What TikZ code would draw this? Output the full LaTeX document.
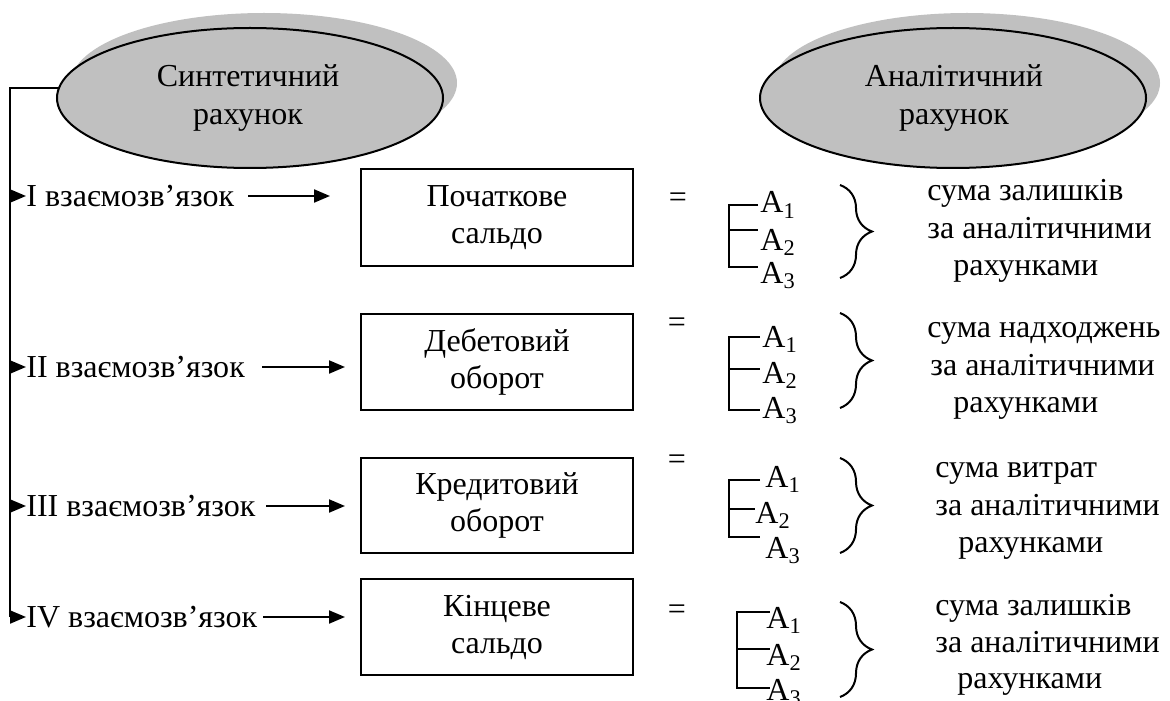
\documentclass[tikz,border=0pt]{standalone}
\usepackage{fontspec}
\setmainfont{Liberation Serif}
\usetikzlibrary{shapes.geometric,arrows.meta,decorations.pathreplacing}
\definecolor{ellgray}{HTML}{C0C0C0}
\begin{document}
\begin{tikzpicture}[x=0.5pt,y=-0.5pt,
  txt/.style={font=\fontsize{16pt}{18.5pt}\selectfont, inner sep=0pt},
  etxt/.style={font=\fontsize{16pt}{19pt}\selectfont, inner sep=0pt},
  ell/.style={ellipse, minimum width=193pt, minimum height=70pt, inner sep=0pt},
  shadowell/.style={ell, fill=ellgray},
  frontell/.style={ell, fill=ellgray, draw=black, line width=1pt},
  box/.style={txt, draw, line width=1pt, minimum width=136pt, minimum height=48pt, align=center},
  arr/.style={line width=1pt, -{Triangle[length=8pt,width=6.5pt]}},
  tickline/.style={line width=1pt},
  brc/.style={line width=1pt, decorate, decoration={brace, amplitude=16pt}},
  lab/.style={txt, anchor=west},
  bw/.style={txt, anchor=base west},
]
\useasboundingbox (0,0) rectangle (1170,700);

% ellipses
\node[shadowell] (syntsh) at (264,83) {};
\node[frontell] (synt) at (250,98) {};
\node[etxt, align=center] (synttxt) at (248,98) {Синтетичний\\рахунок};
\node[shadowell] (analsh) at (967,83) {};
\node[frontell] (anal) at (953,98) {};
\node[etxt, align=center] (analtxt) at (954,98) {Аналітичний\\рахунок};

% row labels
\coordinate (t1) at (10,196);
\coordinate (t2) at (10,367);
\coordinate (t3) at (10,506);
\coordinate (t4) at (10,617);
\coordinate (t0) at (synt.177 -| t4);
\node[lab] (lab1) at (26,196) {I взаємозв’язок};
\node[lab] (lab2) at (26,367) {II взаємозв’язок};
\node[lab] (lab3) at (26,506) {III взаємозв’язок};
\node[lab] (lab4) at (26,617) {IV взаємозв’язок};
\draw[line width=1pt] (t4) -- (t0) -- (synt.177);
\foreach \i in {1,...,4} {\draw[arr] (t\i) -- (lab\i.west);}

% boxes
\node[box, minimum height=48.5pt] (b1) at (497,217.5) {Початкове\\сальдо};
\node[box] (b2) at (497,362) {Дебетовий\\оборот};
\node[box, minimum height=47.5pt] (b3) at (497,505.5) {Кредитовий\\оборот};
\node[box] (b4) at (497,627) {Кінцеве\\сальдо};

% arrows to boxes
\coordinate (s1) at (248,196); \coordinate (e1) at (330,196);
\coordinate (s2) at (262,367); \coordinate (e2) at (345,367);
\coordinate (s3) at (266,506); \coordinate (e3) at (345,506);
\coordinate (s4) at (263,617); \coordinate (e4) at (345,617);
\foreach \i in {1,...,4} {\draw[arr] (s\i) -- (e\i);}

% equals
\node[txt] (eq1) at (678,200) {=};
\node[txt] (eq2) at (677,325) {=};
\node[txt] (eq3) at (677,462) {=};
\node[txt] (eq4) at (677,612) {=};

% row I list
\draw[tickline] (758,205) -- (729,205) -- (729,267) -- (758,267);
\draw[tickline] (729,230) -- (758,230);
\node[bw] (a11) at (760,213) {A\textsubscript{1}};
\node[bw] (a12) at (760,250) {A\textsubscript{2}};
\node[bw] (a13) at (760,283) {A\textsubscript{3}};
% row II list
\draw[tickline] (760,337) -- (729,337) -- (729,410) -- (760,410);
\draw[tickline] (729,369) -- (760,369);
\node[bw] (a21) at (762,347) {A\textsubscript{1}};
\node[bw] (a22) at (762,383) {A\textsubscript{2}};
\node[bw] (a23) at (762,418) {A\textsubscript{3}};
% row III list
\draw[tickline] (760,480) -- (729,480) -- (729,537) -- (760,537);
\draw[tickline] (729,509) -- (755,509);
\node[bw] (a31) at (765,487) {A\textsubscript{1}};
\node[bw] (a32) at (755,523) {A\textsubscript{2}};
\node[bw] (a33) at (765,558) {A\textsubscript{3}};
% row IV list
\draw[tickline] (770,612) -- (737,612) -- (737,688) -- (770,688);
\draw[tickline] (737,649) -- (770,649);
\node[bw] (a41) at (766,628) {A\textsubscript{1}};
\node[bw] (a42) at (766,665) {A\textsubscript{2}};
\node[bw] (a43) at (766,700) {A\textsubscript{3}};

% braces
\draw[brc] (840,185) -- (840,278);
\draw[brc] (840,313) -- (840,408);
\draw[brc] (840,458) -- (840,553);
\draw[brc] (840,602) -- (840,697);

% right texts
\node[bw] (r11) at (927,200) {сума залишків};
\node[bw] (r12) at (927,238) {за аналітичними};
\node[bw] (r13) at (953,275) {рахунками};
\node[bw] (r21) at (927,337) {сума надходжень};
\node[bw] (r22) at (930,375) {за аналітичними};
\node[bw] (r23) at (953,412) {рахунками};
\node[bw] (r31) at (935,477) {сума витрат};
\node[bw] (r32) at (935,515) {за аналітичними};
\node[bw] (r33) at (958,552) {рахунками};
\node[bw] (r41) at (935,615) {сума залишків};
\node[bw] (r42) at (935,652) {за аналітичними};
\node[bw] (r43) at (957,688) {рахунками};
\end{tikzpicture}
\end{document}
